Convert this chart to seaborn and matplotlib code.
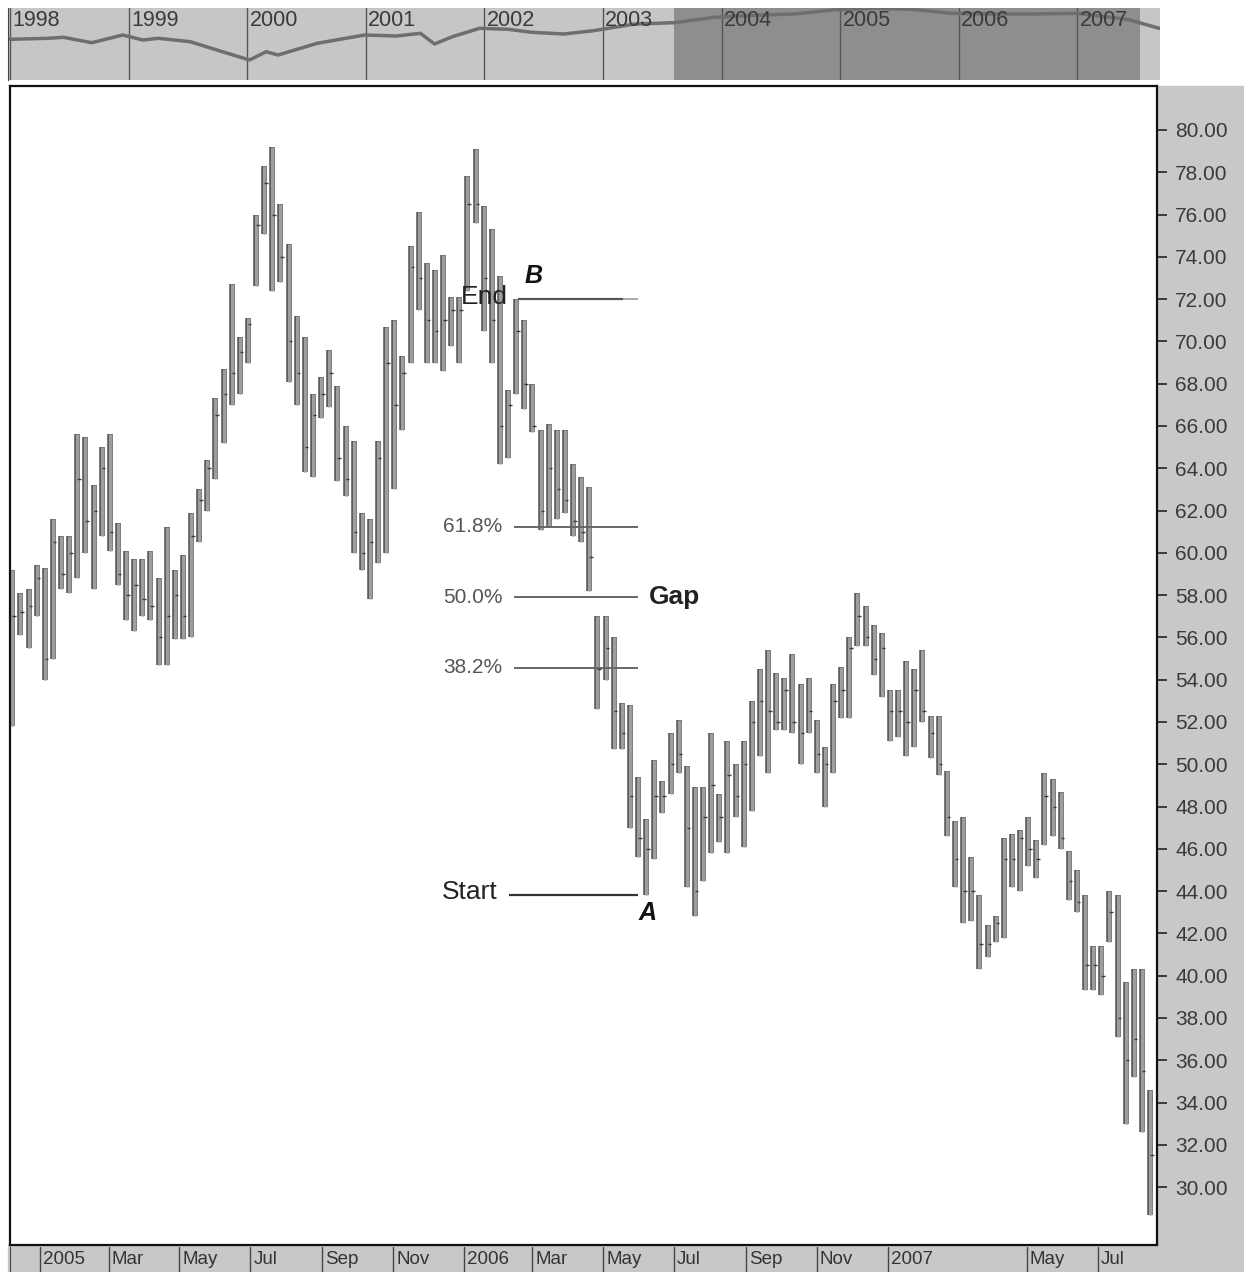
import pandas as pd
import numpy as np
import matplotlib.pyplot as plt
from matplotlib.patches import Rectangle
from matplotlib.transforms import ScaledTranslation
import seaborn as sns

sns.set_style("white")
plt.rcParams['font.family'] = ['Liberation Sans', 'DejaVu Sans']

# ------------------------
# Weekly price bars (Wednesday of each week)
# ------------------------
first_week = "2004-12-08"
highs = [59.2, 58.1, 58.3, 59.4, 59.3, 61.6, 60.8, 60.8, 65.6, 65.5,
         63.2, 65.0, 65.6, 61.4, 60.1, 59.7, 59.7, 60.1, 58.8, 61.2,
         59.2, 59.9, 61.9, 63.0, 64.4, 67.3, 68.7, 72.7, 70.2, 71.1,
         76.0, 78.3, 79.2, 76.5, 74.6, 71.2, 70.2, 67.5, 68.3, 69.6,
         67.9, 66.0, 65.3, 61.9, 61.6, 65.3, 70.7, 71.0, 69.3, 74.5,
         76.1, 73.7, 73.4, 74.1, 72.1, 72.1, 77.8, 79.1, 76.4, 75.3,
         73.1, 67.7, 72.0, 71.0, 68.0, 65.8, 66.1, 65.8, 65.8, 64.2,
         63.6, 63.1, 57.0, 57.0, 56.0, 52.9, 52.8, 49.4, 47.4, 50.2,
         49.2, 51.5, 52.1, 49.9, 48.9, 48.9, 51.5, 48.6, 51.1, 50.0,
         51.1, 53.0, 54.5, 55.4, 54.3, 54.1, 55.2, 53.8, 54.1, 52.1,
         50.8, 53.8, 54.6, 56.0, 58.1, 57.5, 56.6, 56.2, 53.5, 53.5,
         54.9, 54.5, 55.4, 52.3, 52.3, 49.7, 47.3, 47.5, 45.6, 43.8,
         42.4, 42.8, 46.5, 46.7, 46.9, 47.5, 46.4, 49.6, 49.3, 48.7,
         45.9, 45.0, 43.8, 41.4, 41.4, 44.0, 43.8, 39.7, 40.3, 40.3,
         34.6]
lows = [51.8, 56.1, 55.5, 57.0, 54.0, 55.0, 58.3, 58.1, 58.8, 60.0,
        58.3, 60.8, 60.1, 58.5, 56.8, 56.3, 57.0, 56.8, 54.7, 54.7,
        55.9, 55.9, 56.0, 60.5, 62.0, 63.5, 65.2, 67.0, 67.5, 69.0,
        72.6, 75.1, 72.4, 72.8, 68.1, 67.0, 63.8, 63.6, 66.4, 66.9,
        63.4, 62.7, 60.0, 59.2, 57.8, 59.5, 60.0, 63.0, 65.8, 69.0,
        71.5, 69.0, 69.0, 68.6, 69.8, 69.0, 72.4, 75.6, 70.5, 69.0,
        64.2, 64.5, 67.5, 66.8, 65.7, 61.1, 61.2, 61.6, 61.9, 60.8,
        60.5, 58.2, 52.6, 54.0, 50.7, 50.7, 47.0, 45.6, 43.8, 45.5,
        47.7, 48.6, 49.6, 44.2, 42.8, 44.5, 45.8, 46.3, 45.8, 47.5,
        46.1, 47.8, 50.4, 49.6, 51.6, 51.6, 51.5, 50.0, 51.5, 49.6,
        48.0, 49.6, 52.2, 52.2, 55.6, 55.6, 54.2, 53.2, 51.1, 51.3,
        50.4, 50.8, 52.0, 50.3, 49.5, 46.6, 44.2, 42.5, 42.6, 40.3,
        40.9, 41.6, 41.8, 44.2, 44.0, 45.2, 44.6, 46.2, 46.6, 46.0,
        43.6, 43.0, 39.3, 39.3, 39.1, 41.6, 37.1, 33.0, 35.2, 32.6,
        28.7]
closes = [57.0, 57.2, 57.5, 58.8, 55.0, 60.5, 59.0, 60.0, 63.5, 61.5,
          62.0, 64.0, 61.0, 59.0, 58.0, 58.5, 57.8, 57.5, 56.0, 57.0,
          58.0, 57.0, 60.8, 62.5, 64.0, 66.5, 67.5, 68.5, 69.5, 70.8,
          75.5, 77.5, 76.0, 74.0, 70.0, 68.5, 65.0, 66.5, 67.5, 68.5,
          64.5, 63.5, 61.0, 60.0, 60.5, 64.5, 69.0, 67.0, 68.5, 73.5,
          73.0, 71.0, 70.5, 71.0, 71.5, 71.5, 76.5, 76.5, 73.0, 71.0,
          66.0, 67.0, 70.5, 68.0, 66.0, 62.0, 64.0, 63.0, 62.5, 61.5,
          61.0, 59.8, 54.5, 55.5, 52.5, 51.5, 48.5, 46.5, 46.0, 48.5,
          48.5, 50.0, 50.5, 47.0, 44.0, 47.5, 49.0, 47.5, 49.5, 48.5,
          50.0, 52.0, 53.0, 52.5, 52.0, 53.5, 52.0, 51.5, 52.5, 50.5,
          50.0, 53.0, 53.5, 55.5, 57.0, 56.0, 55.0, 55.5, 52.5, 52.5,
          52.0, 53.5, 52.5, 51.5, 50.0, 47.5, 45.5, 44.0, 44.0, 41.5,
          41.5, 42.5, 45.5, 45.5, 46.5, 46.0, 45.5, 48.5, 48.0, 46.5,
          44.5, 43.5, 40.5, 40.5, 40.0, 43.0, 38.0, 36.0, 37.0, 35.5,
          31.5]

# swing points used for the retracement
b_week = 62
a_week = 78
fib_ratios = [0.618, 0.5, 0.382]
fib_labels = ["61.8%", "50.0%", "38.2%"]

# ------------------------
# Long-term overview strip (relative level)
# ------------------------
nav_years = [1998.00, 1998.32, 1998.45, 1998.69, 1998.95, 1999.12, 1999.25,
             1999.52, 1999.79, 2000.02, 2000.16, 2000.26, 2000.59, 2000.99,
             2001.26, 2001.46, 2001.58, 2001.73, 2001.96, 2002.20, 2002.40,
             2002.67, 2002.92, 2003.27, 2003.60, 2003.94, 2004.34, 2004.61,
             2004.94, 2005.28, 2005.61, 2005.94, 2006.28, 2006.61, 2007.00,
             2007.42, 2007.69]
nav_level = [42.7, 43.7, 44.7, 39.3, 47.0, 42.0, 43.7, 40.3, 30.3, 22.0,
             30.3, 27.0, 38.7, 47.0, 46.0, 48.7, 38.0, 45.3, 53.7, 52.7,
             49.7, 48.0, 51.3, 58.0, 59.3, 64.7, 67.0, 68.0, 72.0, 73.7,
             72.7, 68.7, 68.0, 68.0, 68.7, 62.7, 53.7]
nav_year_ticks = list(range(1998, 2008))

month_ticks = ["2005-01-01", "2005-03-01", "2005-05-01", "2005-07-01",
               "2005-09-01", "2005-11-01", "2006-01-01", "2006-03-01",
               "2006-05-01", "2006-07-01", "2006-09-01", "2006-11-01",
               "2007-01-01", "2007-05-01", "2007-07-01"]
month_labels = ["2005", "Mar", "May", "Jul", "Sep", "Nov", "2006", "Mar",
                "May", "Jul", "Sep", "Nov", "2007", "May", "Jul"]

# ------------------------
# Figure layout (pixel boxes)
# ------------------------
W, H = 1244, 1272
fig = plt.figure(figsize=(W / 100, H / 100), dpi=100)
fig.patch.set_facecolor("white")


def box(x0, y0, x1, y1):
    return [x0 / W, 1 - y1 / H, (x1 - x0) / W, (y1 - y0) / H]


gray = "#c8c8c8"
fig.add_artist(Rectangle((1157 / W, 0), (W - 1157) / W, 1 - 86 / H,
                         transform=fig.transFigure, color=gray, zorder=0))
fig.add_artist(Rectangle((8 / W, 0), (W - 8) / W, (H - 1245) / H,
                         transform=fig.transFigure, color=gray, zorder=0))

# ------------------------
# Main price chart
# ------------------------
ax = fig.add_axes(box(10, 86, 1157, 1245))
ax.set_facecolor("white")
dates = pd.date_range(first_week, periods=len(highs), freq="7D")
ax.vlines(dates, lows, highs, color="#575757", lw=4.0)
ax.vlines(dates, lows, highs, color="#9e9e9e", lw=2.3)
ax.hlines(closes, dates, dates + pd.Timedelta(days=3), color="#3a3a3a", lw=1.0)

ax.set_xlim(pd.Timestamp("2004-12-06"), pd.Timestamp("2007-08-21"))
ax.set_ylim(27.26, 82.08)
ax.set_xticks([])
ax.yaxis.tick_right()
yt = np.arange(30, 81, 2)
ax.set_yticks(yt)
ax.set_yticklabels([f"{v:.2f}" for v in yt])
ax.tick_params(axis="y", direction="out", length=7, width=1.2, pad=6,
               labelsize=15, labelcolor="#3a3a3a", color="#222222")
for s in ax.spines.values():
    s.set_color("#111111")
    s.set_linewidth(1.6)

# retracement annotations
B = highs[b_week]
A = lows[a_week]
t = pd.Timestamp
line_x0, line_x1 = t("2006-02-13"), t("2006-05-31")
ax.hlines(B, t("2006-02-17"), t("2006-05-18"), color="#555555", lw=1.6)
ax.hlines(B, t("2006-05-18"), line_x1, color="#aaaaaa", lw=1.4)
ax.hlines(A, t("2006-02-09"), line_x1, color="#333333", lw=1.6)
for r, lab in zip(fib_ratios, fib_labels):
    lvl = A + r * (B - A)
    ax.hlines(lvl, line_x0, line_x1, color="#666666", lw=1.4)
    ax.text(t("2006-02-03"), lvl, lab, ha="right", va="center",
            fontsize=15, color="#555555")
mid = A + 0.5 * (B - A)
ax.text(t("2006-06-09"), mid, "Gap", ha="left", va="center", fontsize=19,
        fontweight="bold", color="#222222")
ax.text(t("2006-02-08"), B + 0.1, "End", ha="right", va="center",
        fontsize=19, color="#222222")
ax.text(t("2006-02-22"), B + 1.1, "B", ha="left", va="center", fontsize=18,
        fontweight="bold", fontstyle="italic", color="#111111")
ax.text(t("2006-01-30"), A + 0.15, "Start", ha="right", va="center",
        fontsize=19, color="#222222")
ax.text(t("2006-05-31"), A - 0.85, "A", ha="left", va="center", fontsize=18,
        fontweight="bold", fontstyle="italic", color="#111111")

# ------------------------
# Overview strip on top
# ------------------------
nav = fig.add_axes(box(8, 8, 1160, 80))
nav.set_facecolor("#c6c6c6")
nav.set_xlim(1997.983, 2007.697)
nav.set_ylim(2, 74)
nav.axvspan(2003.6, 2007.53, color="#8e8e8e", lw=0)
for yr in nav_year_ticks:
    nav.axvline(yr, color="#555555", lw=1.0)
    nav.text(yr + 0.02, 72.5, str(yr), ha="left", va="top", fontsize=15.5,
             color="#3a3a3a")
sns.lineplot(x=nav_years, y=nav_level, ax=nav, color="#6e6e6e", lw=2.5)
nav.set_xticks([])
nav.set_yticks([])
for k, s in nav.spines.items():
    s.set_visible(k == "left")
nav.spines["left"].set_color("#444444")

# ------------------------
# Month axis strip at the bottom
# ------------------------
bot = fig.add_axes(box(10, 1247, 1157, 1272))
bot.set_facecolor(gray)
bot.set_xlim(ax.get_xlim())
bot.set_ylim(0, 1)
shift = bot.get_xaxis_transform() + ScaledTranslation(3 / 100, 0, fig.dpi_scale_trans)
for d, lab in zip(month_ticks, month_labels):
    bot.axvline(t(d), color="#444444", lw=1.0)
    bot.text(t(d), 0.5, lab, transform=shift, ha="left", va="center",
             fontsize=13.5, color="#333333")
bot.set_xticks([])
bot.set_yticks([])
for k, s in bot.spines.items():
    s.set_visible(k == "left")
bot.spines["left"].set_color("#444444")

plt.savefig("out.png", dpi=100)
